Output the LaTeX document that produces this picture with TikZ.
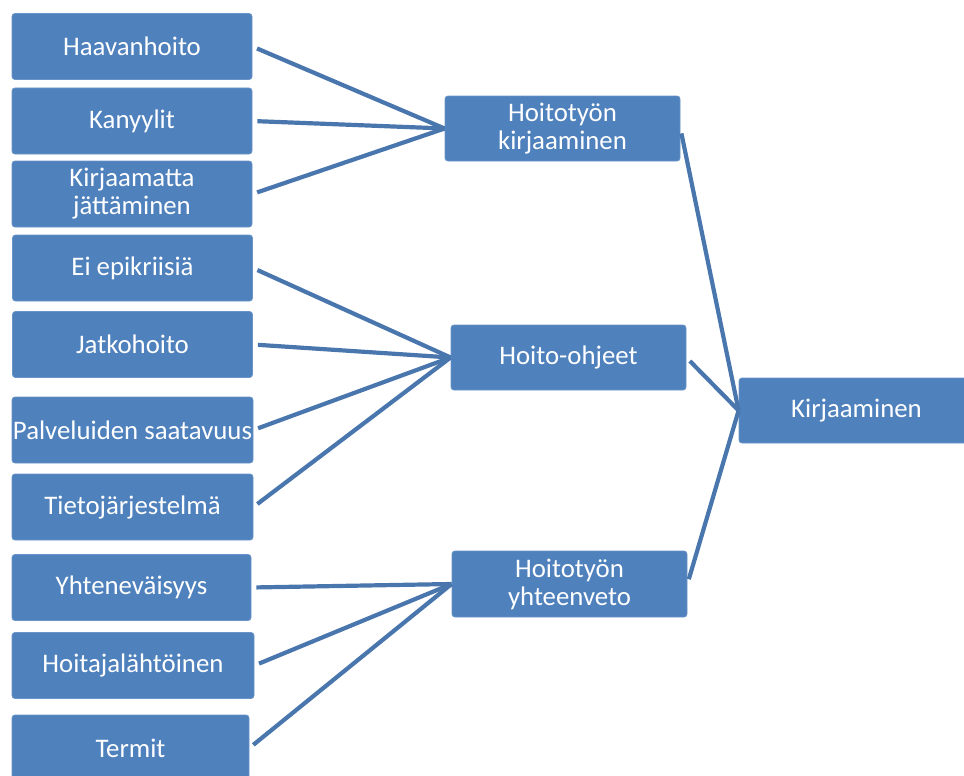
\documentclass[tikz,border=0pt]{standalone}
\usepackage{fontspec}
\setmainfont{Carlito}
\usepackage{tikz}

\definecolor{boxblue}{HTML}{4F81BD}
\definecolor{linkblue}{HTML}{4A76AE}

\tikzset{
  box/.style={draw=boxblue!85!white, line width=0.8pt, fill=boxblue, rounded corners=3pt,
    text=white, inner sep=0, align=center, minimum height=66pt,
    font=\fontsize{26.8}{28}\selectfont},
  leaf/.style={box, minimum width=240pt},
  group/.style={box, minimum width=235pt},
  link/.style={draw=linkblue, line width=4.2pt, shorten <=5pt}
}

\begin{document}
\begin{tikzpicture}[x=1pt, y=-1pt]
      \useasboundingbox (0,0) rectangle (964,776);
      % left column
      \node[leaf] (h1) at (132,46.5) {Haavanhoito};
      \node[leaf] (h2) at (132,121) {Kanyylit};
      \node[leaf] (h3) at (132,194) {Kirjaamatta\\jättäminen};
      \node[leaf] (o1) at (132.5,268) {Ei epikriisiä};
      \node[leaf] (o2) at (132.5,344.5) {Jatkohoito};
      \node[leaf, minimum width=241pt] (o3) at (132.5,430) {Palveluiden saatavuus};
      \node[leaf, minimum width=241pt] (o4) at (132.5,507) {Tietojärjestelmä};
      \node[leaf, minimum width=239pt] (y1) at (131.5,587.5) {Yhteneväisyys};
      \node[leaf, minimum width=242pt] (y2) at (133,665.5) {Hoitajalähtöinen};
      \node[leaf, minimum width=237pt] (y3) at (130.5,748) {Termit};
      % middle column
      \node[group, minimum height=65pt] (K1) at (562.5,128.5) {Hoitotyön\\kirjaaminen};
      \node[group, minimum height=65pt] (K2) at (568.5,357.5) {Hoito-ohjeet};
      \node[group] (K3) at (569.5,584) {Hoitotyön\\yhteenveto};
      % right
      \node[group, minimum height=65pt] (K) at (856.5,410.5) {Kirjaaminen};
      \draw[link] (h1.east) -- (K1.west);
      \draw[link] (h2.east) -- (K1.west);
      \draw[link] (h3.east) -- (K1.west);
      \draw[link] (o1.east) -- (K2.west);
      \draw[link] (o2.east) -- (K2.west);
      \draw[link] (o3.east) -- (K2.west);
      \draw[link] (o4.east) -- (K2.west);
      \draw[link] (y1.east) -- (K3.west);
      \draw[link] (y2.east) -- (K3.west);
      \draw[link] (y3.east) -- (K3.west);
      \draw[link] (K1.east) -- (K.west);
      \draw[link] (K2.east) -- (K.west);
      \draw[link] (K3.east) -- (K.west);
    \end{tikzpicture}
\end{document}
